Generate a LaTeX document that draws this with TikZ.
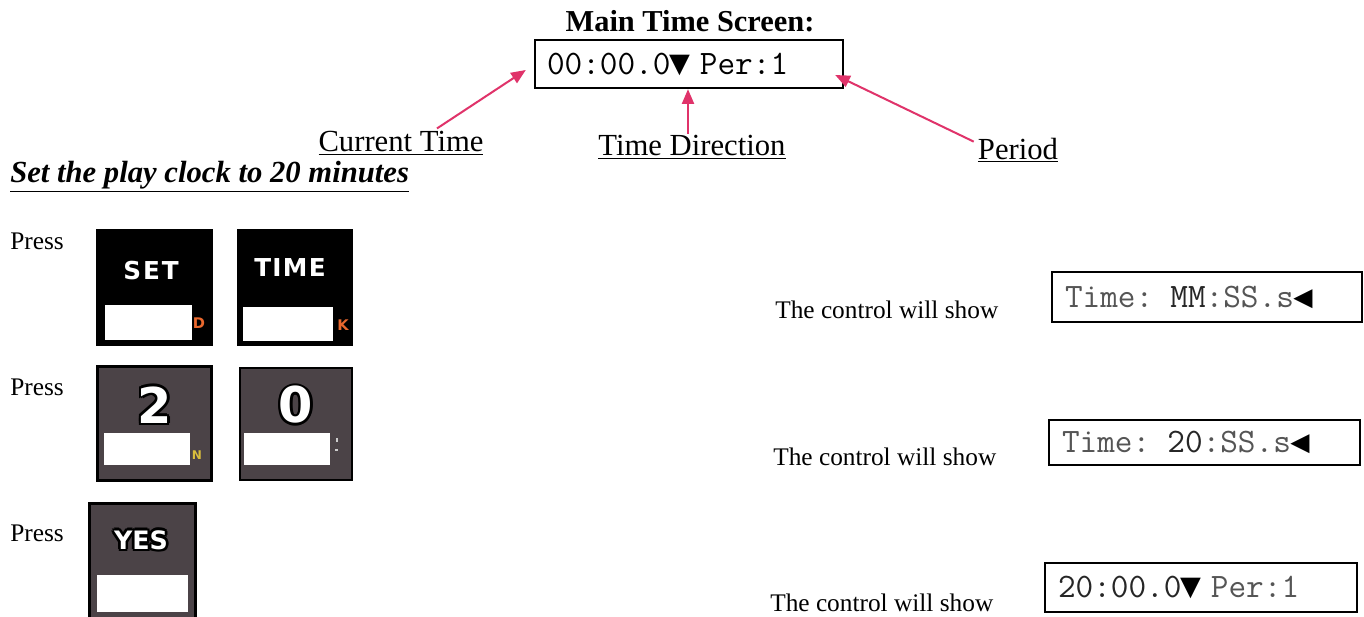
\documentclass[tikz,border=0pt]{standalone}
\usepackage{fontspec}
\setmainfont{Liberation Serif}
\newfontfamily\symmono{DejaVu Sans Mono}
\newfontfamily\btnfont{DejaVu Sans}
\usetikzlibrary{arrows.meta}
\definecolor{arrowred}{HTML}{E0336A}
\definecolor{keygray}{HTML}{4B4347}
\definecolor{keyorange}{HTML}{E9682E}
\definecolor{keyyellow}{HTML}{D9BE3C}
\definecolor{lcdgray}{HTML}{555555}
\definecolor{lcddark}{HTML}{262626}
\newcommand\outl[1]{{\setbox0\hbox{#1}%
 \rlap{\color{black}\kern-2pt\copy0}\rlap{\color{black}\kern2pt\copy0}%
 \rlap{\color{black}\raise2pt\copy0}\rlap{\color{black}\lower2pt\copy0}%
 \rlap{\color{black}\kern-1.4pt\raise1.4pt\copy0}\rlap{\color{black}\kern1.4pt\raise1.4pt\copy0}%
 \rlap{\color{black}\kern-1.4pt\lower1.4pt\copy0}\rlap{\color{black}\kern1.4pt\lower1.4pt\copy0}%
 \copy0}}
\newcommand\dn{\makebox[0.525em]{\symmono\fontsize{26}{27}\selectfont ▼}}
\newcommand\lf{\makebox[0.525em]{\symmono\fontsize{24}{26}\selectfont ◀}}
\begin{document}
\begin{tikzpicture}[x=0.75pt,y=-0.75pt,
  lcd/.style={draw=black, line width=1.8pt, inner ysep=0pt, align=left,
    font=\ttfamily\fontsize{25.7}{27}\selectfont},
  lbl/.style={inner sep=1pt, font=\fontsize{23}{26}\selectfont},
  small/.style={inner sep=0pt, font=\fontsize{19}{22}\selectfont},
  ptr/.style={draw=arrowred, line width=1.5pt, -{Triangle[length=11pt,width=9pt]}},
  keyblack/.style={draw=black, fill=black, line width=2pt, inner sep=0pt},
  keygrey/.style={draw=black, fill=keygray, line width=2.2pt, inner sep=0pt},
  slot/.style={fill=white, inner sep=0pt},
  keytxt/.style={text=white, inner sep=0pt, font=\btnfont\bfseries\fontsize{18.5}{22}\selectfont},
  keybig/.style={text=white, inner sep=0pt, font=\btnfont\bfseries\fontsize{37}{40}\selectfont},
  keybold/.style={text=white, inner sep=0pt, font=\btnfont\bfseries\fontsize{19}{22}\selectfont},
  tag/.style={inner sep=0pt, font=\btnfont\bfseries\fontsize{11}{12}\selectfont}]
\useasboundingbox (0,0) rectangle (1364,617);
\fill[white] (0,0) rectangle (1364,617);

% title and main screen
\node[inner sep=0pt, font=\bfseries\fontsize{22.8}{26}\selectfont] (title) at (690,21) {Main Time Screen:};
\node[lcd, minimum height=36pt, inner xsep=9pt, text width=213pt] (screen) at (689,64)
  {00:00.0\dn{} Per:1};

% labels
\node[lbl] (ct) at (401,143) {\underline{Current Time}};
\node[lbl] (td) at (692,147) {\underline{Time Direction}};
\node[lbl] (per) at (1018,150) {\underline{Period}};

\draw[ptr] ([xshift=27pt,yshift=1pt]ct.north) -- ([shift={(-8,6)}]screen.west);
\draw[ptr] ([xshift=-3pt]td.north) -- ([xshift=-0.75pt]screen.south);
\draw[ptr] ([xshift=-2pt,yshift=-4pt]per.north west) -- ([shift={(-9,11)}]screen.east);

\node[anchor=west, inner sep=0pt, font=\bfseries\itshape\fontsize{23}{26}\selectfont] (heading) at (10,177)
  {\underline{Set the play clock to 20 minutes}};

% press labels
\node[small, anchor=west] (p1) at (10,241) {Press};
\node[small, anchor=west] (p2) at (10,387) {Press};
\node[small, anchor=west] (p3) at (10,533) {Press};

% SET key
\node[keyblack, minimum width=86pt, minimum height=86pt] (kset) at (154.5,287.5) {};
\node[slot, minimum width=65pt, minimum height=26pt] (kset s) at (148.5,322.5) {};
\node[keytxt] (kset t) at (151,271) {S\kern1.5pt E\kern1.5pt T};
\node[tag, text=keyorange] (kset d) at (199,323) {D};

% TIME key
\node[keyblack, minimum width=85.5pt, minimum height=86pt] (ktime) at (295,287.5) {};
\node[slot, minimum width=67.5pt, minimum height=25.5pt] (ktime s) at (288,324) {};
\node[keytxt] (ktime t) at (290,268) {T\kern1pt I\kern1pt M\kern1pt E};
\node[tag, text=keyorange] (ktime k) at (343,325) {K};

% 2 key
\node[keygrey, minimum width=85pt, minimum height=85pt] (k2) at (154.5,423.5) {};
\node[slot, minimum width=64.5pt, minimum height=24pt] (k2 s) at (147,449) {};
\node[keybig] (k2 t) at (155,405) {\outl{2}};
\node[tag, text=keyyellow, font=\btnfont\bfseries\fontsize{9}{10}\selectfont] (k2 n) at (197,455) {N};

% 0 key
\node[keygrey, minimum width=84pt, minimum height=84pt] (k0) at (296,424) {};
\node[slot, minimum width=64.5pt, minimum height=24pt] (k0 s) at (287,449) {};
\node[keybig] (k0 t) at (296,405) {\outl{0}};
\draw[gray!40, line width=1pt] (337,438) -- (337,442) (335,450) -- (338,450);

% YES key
\node[keygrey, minimum width=79pt, minimum height=86pt] (kyes) at (142.5,561) {};
\node[slot, minimum width=68pt, minimum height=27.75pt] (kyes s) at (142.5,593.5) {};
\node[keybold] (kyes t) at (141,540) {\outl{YES}};

% control will show
\node[small, anchor=west] (c1) at (775,310) {The control will show};
\node[small, anchor=west] (c2) at (773,457) {The control will show};
\node[small, anchor=west] (c3) at (770,603) {The control will show};

\node[lcd, minimum height=37.5pt, inner xsep=9.75pt, text width=213pt] (d1) at (1207,297)
  {\textcolor{lcdgray}{Time:} \textcolor{lcddark}{MM}\textcolor{lcdgray}{:SS.s}\lf};
\node[lcd, minimum height=33.75pt, inner xsep=9.75pt, text width=213.75pt] (d2) at (1204.5,442.5)
  {\textcolor{lcdgray}{Time:} \textcolor{lcddark}{20}\textcolor{lcdgray}{:SS.s}\lf};
\node[lcd, minimum height=36.75pt, inner xsep=9.75pt, text width=214.5pt] (d3) at (1201,587.5)
  {\textcolor{lcddark}{20:00.0}\dn{} \textcolor{lcdgray}{Per:1}};
\end{tikzpicture}
\end{document}
